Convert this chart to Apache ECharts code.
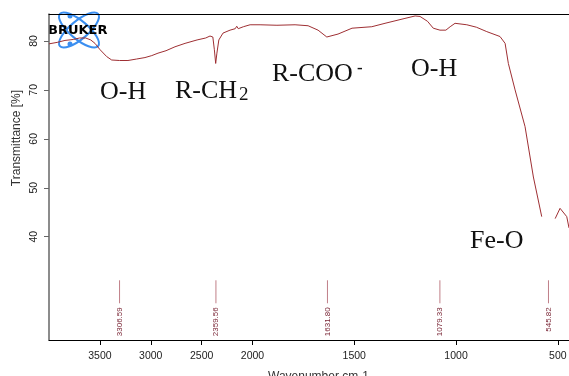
<!DOCTYPE html>
<html><head><meta charset="utf-8">
<script src="https://cdn.jsdelivr.net/npm/echarts@6/dist/echarts.min.js"></script>
<style>html,body{margin:0;padding:0;background:#fff;overflow:hidden}#c{width:569px;height:376px}</style>
</head><body><div id="c"></div>
<script>
// ---- data ----
const wavenumbers = [4000,3920,3843,3760,3700,3640,3590,3548,3498,3433,3384,3306,3224,3140,3057,2990,2929,2850,2762,2663,2545,2460,2418,2390,2375,2362,2350,2331,2290,2221,2170,2155,2140,2090,2024,1963,1880,1791,1727,1678,1635,1580,1511,1414,1349,1251,1201,1177,1140,1112,1079,1050,1029,1005,947,900,849,784,759,743,710,661,620,579,546,513,489,456,445];
const transmittance = [79.4,79.7,80.1,80.3,80.6,80.6,80.2,79.5,78.2,76.8,76.1,76.0,76.0,76.3,76.6,77.0,77.5,78.0,78.8,79.5,80.2,80.6,81.0,80.8,78.2,75.4,77.5,80.2,81.6,82.2,82.5,83.0,82.5,82.9,83.3,83.3,83.2,83.3,83.1,82.2,80.8,81.4,82.6,82.9,83.6,84.6,85.1,85.0,84.0,82.6,82.2,82.2,82.9,83.6,83.3,82.8,81.9,80.9,79.5,75.4,70.0,62.5,52.2,44.1,null,43.7,45.8,44.1,41.8];
const peakWavenumbers = [3306.59, 2359.56, 1631.80, 1079.33, 545.82];
const xTickLabels = [3500, 3000, 2500, 2000, 1500, 1000, 500];
const yTickLabels = [40, 50, 60, 70, 80];
const bandLabels = ['O-H', 'R-CH', 'R-COO', 'O-H', 'Fe-O'];
const bandSub = '2';
const bandSup = '-';
const xAxisTitle = 'Wavenumber cm-1';
const yAxisTitle = 'Transmittance [%]';
const logoText = 'BRUKER';

// Bruker split scale: above 2000 cm-1 compressed by 2
function toAxis(w){ return w > 2000 ? 2000 + (w - 2000) / 2 : w; }
function fromAxis(t){ return t > 2000 ? 2000 + (t - 2000) * 2 : t; }

const chart = echarts.init(document.getElementById('c'), null, {renderer:'canvas'});
const serif = '"Liberation Serif","Times New Roman",serif';
const sans = '"Liberation Sans",Arial,sans-serif';
const bandPos = [[100,94],[175,93],[272,76],[411,71],[470,243]];

const graphics = [];
bandLabels.forEach((t,i)=>{
  graphics.push({type:'text', left:bandPos[i][0], top:bandPos[i][1]-15, z:10,
    style:{text:t, font:'26px '+serif, fill:'#111'}});
});
graphics.push({type:'text', left:239, top:86, z:10, style:{text:bandSub, font:'19px '+serif, fill:'#111'}});
graphics.push({type:'text', left:357, top:60, z:10, style:{text:bandSup, font:'bold 17px '+serif, fill:'#111'}});
graphics.push({type:'text', x:17, y:138, rotation:Math.PI/2, z:10,
  style:{text:yAxisTitle, font:'12px '+sans, fill:'#333', align:'center', verticalAlign:'middle'}});
graphics.push({type:'text', x:268, y:377, z:10,
  style:{text:xAxisTitle, font:'12px '+sans, fill:'#333', align:'left', verticalAlign:'middle'}});
// logo
graphics.push({type:'group', x:79, y:30, z:20, children:[
  {type:'ellipse', rotation: 0.7, shape:{cx:0, cy:0, rx:25, ry:9}, style:{fill:null, stroke:'#3a8ef0', lineWidth:2}},
  {type:'ellipse', rotation: -0.7, shape:{cx:0, cy:0, rx:25, ry:9}, style:{fill:null, stroke:'#3a8ef0', lineWidth:2}},
  {type:'circle', shape:{cx:-9, cy:-14, r:2.5}, style:{fill:'#3a8ef0'}},
  {type:'circle', shape:{cx:-9, cy:14, r:2.5}, style:{fill:'#3a8ef0'}},
  {type:'text', x:-31, y:1, style:{text:logoText, font:'bold 13px "DejaVu Sans",sans-serif', fill:'#000', verticalAlign:'middle'}}
]});

const tTicks = xTickLabels.map(toAxis);

chart.setOption({
  animation:false,
  backgroundColor:'#fff',
  grid:{left:49, right:0, top:14, bottom:36, containLabel:false, outerBoundsMode:'none'},
  xAxis:[{
    type:'value', inverse:true, min:445, max:3000, position:'bottom',
    axisLine:{show:true, lineStyle:{color:'#000', width:1}},
    axisTick:{show:true, length:5, customValues:tTicks, lineStyle:{color:'#000'}},
    axisLabel:{show:true, customValues:tTicks, margin:11, color:'#222', fontSize:10.5, fontFamily:sans,
      formatter:v=>String(Math.round(fromAxis(v)))},
    splitLine:{show:false}
  },{
    type:'value', inverse:true, min:445, max:3000, position:'top',
    axisLine:{show:true, lineStyle:{color:'#000', width:1}},
    axisTick:{show:false}, axisLabel:{show:false}, splitLine:{show:false}
  }],
  yAxis:{
    type:'value', min:18.9, max:85.5,
    axisLine:{show:true, lineStyle:{color:'#666', width:1.5}},
    axisTick:{show:true, length:5, customValues:yTickLabels, lineStyle:{color:'#666'}},
    axisLabel:{show:true, customValues:yTickLabels, rotate:90, margin:9, color:'#222', fontSize:10.5, fontFamily:sans},
    splitLine:{show:false}
  },
  series:[{
    type:'line', data:wavenumbers.map((w,i)=>[toAxis(w), transmittance[i]]),
    showSymbol:false, connectNulls:false, lineStyle:{color:'#9e2f33', width:1}, z:5
  },{
    type:'custom',
    data:peakWavenumbers.map(w=>[toAxis(w), w]),
    renderItem:(params, api)=>{
      const p1 = api.coord([api.value(0), 31.1]);
      const p2 = api.coord([api.value(0), 26.4]);
      return {type:'group', children:[
        {type:'line', shape:{x1:p1[0], y1:p1[1], x2:p2[0], y2:p2[1]}, style:{stroke:'#c07f88', lineWidth:1}},
        {type:'text', x:p2[0], y:p2[1]+4, rotation:Math.PI/2,
          style:{text:api.value(1).toFixed(2), font:'8px '+sans, fill:'#7a2636', align:'right', verticalAlign:'middle'}}
      ]};
    }
  }],
  graphic:graphics
});
</script>
</body></html>
